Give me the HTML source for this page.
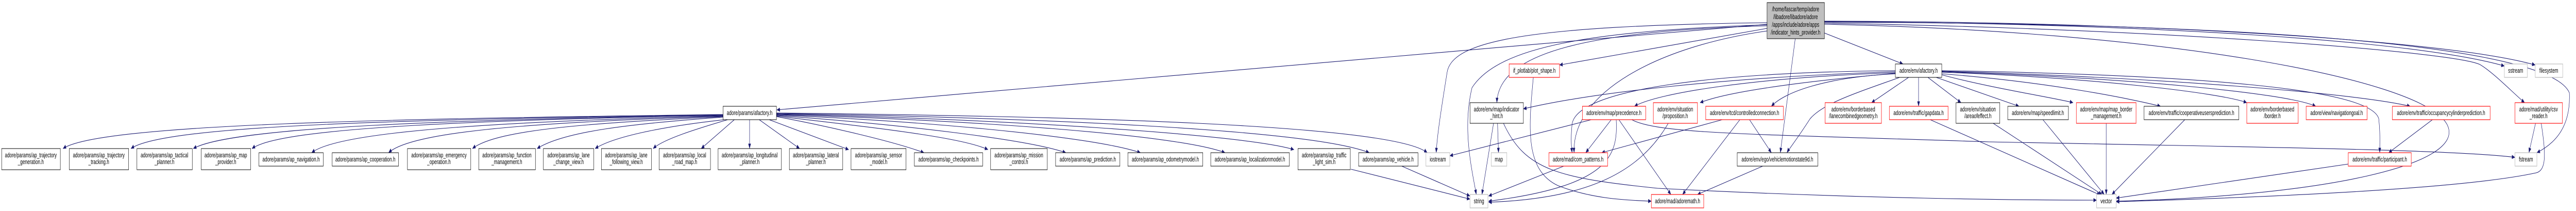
<!DOCTYPE html>
<html><head><meta charset="utf-8"><style>
html,body{margin:0;padding:0;background:#fff;width:100%;height:100%;overflow:hidden}
svg{display:block;width:100vw;height:100vh}
text{font-family:"Liberation Sans",Arial,sans-serif;font-size:12.8px;fill:#000;text-anchor:middle}
.e{stroke:#191970;stroke-width:1.1;fill:none;marker-end:url(#a)}
.b{fill:#fff;stroke:#000;stroke-width:1}
.r{fill:#fff;stroke:#ff2020;stroke-width:1.3}
.g{fill:#fff;stroke:#bfbfbf;stroke-width:1.3}
</style></head><body>
<svg viewBox="0 0 7770 409" preserveAspectRatio="none" xmlns="http://www.w3.org/2000/svg">
<defs><marker id="a" markerWidth="10" markerHeight="8" refX="9.5" refY="4" orient="auto" markerUnits="userSpaceOnUse"><path d="M0,0 L10,4 L0,8 z" fill="#191970"/></marker></defs>

<path class="e" d="M2181,222 C1200,230 300,240 190,288"/>
<path class="e" d="M2181,222 C1300,232 500,240 395,288"/>
<path class="e" d="M2181,223 C1400,232 700,245 583,288"/>
<path class="e" d="M2181,223 C1500,233 850,245 760,288"/>
<path class="e" d="M2181,224 C1600,235 1030,250 940,296"/>
<path class="e" d="M2181,225 C1700,236 1250,250 1172,296"/>
<path class="e" d="M2181,226 C1800,238 1500,250 1425,288"/>
<path class="e" d="M2181,227 C1900,240 1700,255 1620,288"/>
<path class="e" d="M2185,232 C2000,245 1850,265 1795,288"/>
<path class="e" d="M2195,232 C2100,250 2000,270 1970,288"/>
<path class="e" d="M2215,232 L2115,288"/>
<path class="e" d="M2261,232 L2261,288"/>
<path class="e" d="M2290,232 L2412,288"/>
<path class="e" d="M2320,232 L2560,290"/>
<path class="e" d="M2342,226 C2500,245 2700,275 2787,296"/>
<path class="e" d="M2342,225 C2600,245 2900,265 2980,290"/>
<path class="e" d="M2342,224 C2700,240 3100,270 3215,296"/>
<path class="e" d="M2342,223 C2800,235 3300,265 3440,296"/>
<path class="e" d="M2342,222 C2900,232 3550,260 3695,296"/>
<path class="e" d="M2342,221 C3000,230 3750,260 3903,290"/>
<path class="e" d="M2342,220 C3100,228 3950,250 4130,296"/>
<path class="e" d="M2342,219 C3200,225 4200,240 4305,296"/>

<path class="e" d="M5330,47 L2343,213"/>
<path class="e" d="M5330,44 C4600,50 4380,80 4365,140 C4350,200 4335,260 4332,296"/>
<path class="e" d="M5330,48 C4800,60 4520,90 4440,170 C4410,250 4440,330 4453,377"/>
<path class="e" d="M5330,50 C4800,60 4520,100 4515,199"/>
<path class="e" d="M5330,55 L4704,126"/>
<path class="e" d="M5330,60 C5000,90 4740,180 4748,296"/>
<path class="e" d="M5415,75 L5370,296"/>
<path class="e" d="M5503,64 L5740,124"/>
<path class="e" d="M5503,42 C6500,45 7300,80 7554,128"/>
<path class="e" d="M5503,41 C6500,42 7400,80 7647,126"/>
<path class="e" d="M5503,45 C6500,55 7400,100 7480,125 C7520,140 7580,180 7615,199"/>
<path class="e" d="M5503,43 C7000,45 7700,100 7750,180 C7755,250 7700,280 7652,296"/>
<path class="e" d="M5503,47 C6500,60 7300,150 7380,240 C7450,320 7000,380 6383,390"/>

<path class="e" d="M5717,143 C5500,150 5380,180 5343,206"/>
<path class="e" d="M5757,150 L5645,199"/>
<path class="e" d="M5787,150 L5787,206"/>
<path class="e" d="M5815,150 L5915,199"/>
<path class="e" d="M5840,150 L6090,206"/>
<path class="e" d="M5857,145 C6000,170 6200,190 6253,199"/>
<path class="e" d="M5857,143 C6200,160 6450,195 6517,206"/>
<path class="e" d="M5857,140 C6300,150 6700,180 6777,199"/>
<path class="e" d="M5857,139 C6400,150 6900,180 6985,206"/>
<path class="e" d="M5857,138 C6500,150 7100,180 7270,206"/>
<path class="e" d="M5857,137 C6600,145 7150,170 7175,230 C7180,260 7178,280 7178,296"/>
<path class="e" d="M5730,150 C5600,180 5500,200 5460,230 C5420,270 5395,290 5390,296"/>
<path class="e" d="M5717,141 C5300,150 5000,180 4930,206"/>
<path class="e" d="M5717,142 C5400,160 5200,180 5128,199"/>
<path class="e" d="M5717,139 C5200,150 4800,180 4595,211"/>
<path class="e" d="M5717,137 C5200,140 4760,170 4742,240 C4737,270 4740,285 4742,296"/>

<path class="e" d="M4922,232 C5000,260 5300,260 6000,275 C6800,285 7400,290 7586,305"/>
<path class="e" d="M4535,239 C4600,330 4700,345 5000,365 C5600,385 6100,388 6324,388"/>
<path class="e" d="M5317,322 L5120,377"/>
<path class="e" d="M5195,232 L4831,296"/>
<path class="e" d="M5248,232 L5075,377"/>
<path class="e" d="M5277,232 L5343,296"/>
<path class="e" d="M4800,232 L4373,302"/>
<path class="e" d="M4860,232 L4783,296"/>
<path class="e" d="M4875,232 C4880,300 4860,360 4490,390"/>
<path class="e" d="M4883,232 L5040,377"/>
<path class="e" d="M5032,239 C4950,330 4800,385 4490,392"/>
<path class="e" d="M4717,322 L4490,380"/>
<path class="e" d="M4625,150 C4610,250 4600,330 4700,360 C4800,385 4900,388 4981,390"/>
<path class="e" d="M4505,239 L4470,377"/>
<path class="e" d="M4517,239 L4520,296"/>
<path class="e" d="M4075,328 L4434,386"/>
<path class="e" d="M4228,322 L4434,380"/>
<path class="e" d="M5822,232 L6335,378"/>
<path class="e" d="M6012,239 L6340,377"/>
<path class="e" d="M6162,232 L6347,377"/>
<path class="e" d="M6353,239 L6353,377"/>
<path class="e" d="M6590,232 L6370,377"/>
<path class="e" d="M7083,318 L6383,384"/>
<path class="e" d="M7648,239 L7628,296"/>
<path class="e" d="M7665,239 C7680,300 7680,330 7650,335 C7400,370 6700,385 6383,391"/>
<path class="e" d="M7337,232 L7205,296"/>

<rect x="5330" y="5" width="173" height="70" fill="#bfbfbf" stroke="#000"/>
<text x="5416" y="22">/home/fascar/temp/adore</text>
<text x="5416" y="37">/libadore/libadore/adore</text>
<text x="5416" y="52">/apps/include/adore/apps</text>
<text x="5416" y="67">/indicator_hints_provider.h</text>

<rect class="b" x="2181" y="206" width="161" height="26"/><text x="2261" y="223">adore/params/afactory.h</text>

<rect class="b" x="5" y="288" width="177" height="41"/><text x="93" y="305">adore/params/ap_trajectory</text><text x="93" y="318">_generation.h</text>
<rect class="b" x="209" y="288" width="179" height="41"/><text x="298" y="305">adore/params/ap_trajectory</text><text x="298" y="318">_tracking.h</text>
<rect class="b" x="413" y="288" width="167" height="41"/><text x="496" y="305">adore/params/ap_tactical</text><text x="496" y="318">_planner.h</text>
<rect class="b" x="607" y="288" width="149" height="41"/><text x="681" y="305">adore/params/ap_map</text><text x="681" y="318">_provider.h</text>
<rect class="b" x="781" y="296" width="194" height="26"/><text x="878" y="313">adore/params/ap_navigation.h</text>
<rect class="b" x="1002" y="296" width="200" height="26"/><text x="1102" y="313">adore/params/ap_cooperation.h</text>
<rect class="b" x="1229" y="288" width="191" height="41"/><text x="1324" y="305">adore/params/ap_emergency</text><text x="1324" y="318">_operation.h</text>
<rect class="b" x="1444" y="288" width="171" height="41"/><text x="1529" y="305">adore/params/ap_function</text><text x="1529" y="318">_management.h</text>
<rect class="b" x="1639" y="288" width="152" height="41"/><text x="1715" y="305">adore/params/ap_lane</text><text x="1715" y="318">_change_view.h</text>
<rect class="b" x="1814" y="288" width="151" height="41"/><text x="1889" y="305">adore/params/ap_lane</text><text x="1889" y="318">_following_view.h</text>
<rect class="b" x="1988" y="288" width="155" height="41"/><text x="2065" y="305">adore/params/ap_local</text><text x="2065" y="318">_road_map.h</text>
<rect class="b" x="2166" y="288" width="191" height="41"/><text x="2261" y="305">adore/params/ap_longitudinal</text><text x="2261" y="318">_planner.h</text>
<rect class="b" x="2381" y="288" width="161" height="41"/><text x="2461" y="305">adore/params/ap_lateral</text><text x="2461" y="318">_planner.h</text>
<rect class="b" x="2567" y="288" width="166" height="41"/><text x="2650" y="305">adore/params/ap_sensor</text><text x="2650" y="318">_model.h</text>
<rect class="b" x="2758" y="296" width="206" height="26"/><text x="2861" y="313">adore/params/ap_checkpoints.h</text>
<rect class="b" x="2988" y="288" width="171" height="41"/><text x="3073" y="305">adore/params/ap_mission</text><text x="3073" y="318">_control.h</text>
<rect class="b" x="3184" y="296" width="194" height="26"/><text x="3281" y="313">adore/params/ap_prediction.h</text>
<rect class="b" x="3402" y="296" width="226" height="26"/><text x="3515" y="313">adore/params/ap_odometrymodel.h</text>
<rect class="b" x="3652" y="296" width="237" height="26"/><text x="3770" y="313">adore/params/ap_localizationmodel.h</text>
<rect class="b" x="3915" y="288" width="158" height="41"/><text x="3994" y="305">adore/params/ap_traffic</text><text x="3994" y="318">_light_sim.h</text>
<rect class="b" x="4098" y="296" width="179" height="26"/><text x="4187" y="313">adore/params/ap_vehicle.h</text>
<rect class="g" x="4301" y="296" width="72" height="26"/><text x="4337" y="313">iostream</text>
<rect class="g" x="4498" y="296" width="47" height="26"/><text x="4521" y="313">map</text>
<rect class="r" x="4672" y="296" width="177" height="26"/><text x="4760" y="313">adore/mad/com_patterns.h</text>
<rect class="b" x="5240" y="296" width="243" height="26"/><text x="5361" y="313">adore/env/ego/vehiclemotionstate9d.h</text>
<rect class="r" x="7083" y="296" width="190" height="26"/><text x="7178" y="313">adore/env/traffic/participant.h</text>
<rect class="g" x="7586" y="296" width="66" height="26"/><text x="7619" y="313">fstream</text>

<rect class="b" x="4434" y="199" width="161" height="40"/><text x="4514" y="216">adore/env/map/indicator</text><text x="4514" y="229">_hint.h</text>
<rect class="r" x="4773" y="206" width="191" height="26"/><text x="4868" y="223">adore/env/map/precedence.h</text>
<rect class="r" x="4987" y="199" width="133" height="40"/><text x="5053" y="216">adore/env/situation</text><text x="5053" y="229">/proposition.h</text>
<rect class="r" x="5145" y="206" width="234" height="26"/><text x="5262" y="223">adore/env/tcd/controlledconnection.h</text>
<rect class="r" x="5505" y="199" width="170" height="40"/><text x="5590" y="216">adore/env/borderbased</text><text x="5590" y="229">/lanecombinedgeometry.h</text>
<rect class="r" x="5699" y="206" width="177" height="26"/><text x="5787" y="223">adore/env/traffic/gapdata.h</text>
<rect class="b" x="5900" y="199" width="132" height="40"/><text x="5966" y="216">adore/env/situation</text><text x="5966" y="229">/areaofeffect.h</text>
<rect class="b" x="6056" y="206" width="183" height="26"/><text x="6147" y="223">adore/env/map/speedlimit.h</text>
<rect class="r" x="6263" y="199" width="180" height="40"/><text x="6353" y="216">adore/env/map/map_border</text><text x="6353" y="229">_management.h</text>
<rect class="b" x="6467" y="206" width="286" height="26"/><text x="6610" y="223">adore/env/traffic/cooperativeusersprediction.h</text>
<rect class="r" x="6777" y="199" width="155" height="40"/><text x="6854" y="216">adore/env/borderbased</text><text x="6854" y="229">/border.h</text>
<rect class="r" x="6956" y="206" width="184" height="26"/><text x="7048" y="223">adore/view/navigationgoal.h</text>
<rect class="r" x="7216" y="206" width="295" height="26"/><text x="7363" y="223">adore/env/traffic/occupancycylinderprediction.h</text>
<rect class="r" x="7586" y="199" width="143" height="40"/><text x="7657" y="216">adore/mad/utility/csv</text><text x="7657" y="229">_reader.h</text>

<rect class="r" x="4552" y="124" width="152" height="26"/><text x="4628" y="141">if_plotlab/plot_shape.h</text>
<rect class="b" x="5717" y="124" width="140" height="26"/><text x="5787" y="141">adore/env/afactory.h</text>
<rect class="g" x="7554" y="124" width="69" height="26"/><text x="7588" y="141">sstream</text>
<rect class="g" x="7647" y="124" width="83" height="26"/><text x="7688" y="141">filesystem</text>

<rect class="g" x="4434" y="377" width="54" height="26"/><text x="4461" y="394">string</text>
<rect class="r" x="4981" y="377" width="158" height="26"/><text x="5060" y="394">adore/mad/adoremath.h</text>
<rect class="g" x="6324" y="377" width="59" height="26"/><text x="6353" y="394">vector</text>
</svg>
</body></html>
